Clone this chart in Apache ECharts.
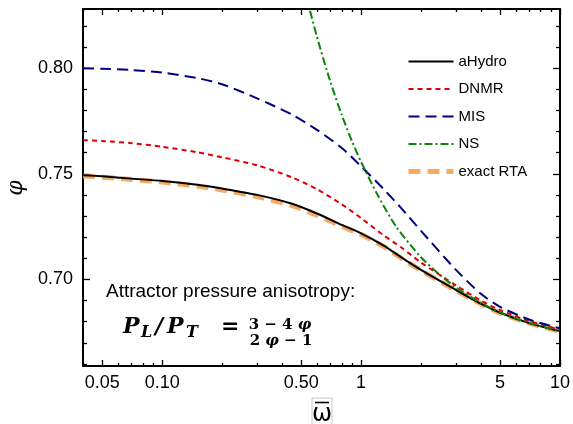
<!DOCTYPE html>
<html><head><meta charset="utf-8">
<script src="https://cdn.jsdelivr.net/npm/echarts@6/dist/echarts.min.js"></script>
<style>html,body{margin:0;padding:0;background:#fff}#c{width:573px;height:424px}</style>
</head><body><div id="c"></div>
<script>
// ---- data (omega-bar values and phi values) ----
const omega    = [0.04, 0.05, 0.07, 0.1, 0.15, 0.2, 0.3, 0.45, 0.6, 0.8, 1, 1.3, 1.6, 2, 3, 4, 5, 7, 10];
const aHydro   = [0.7493, 0.7488, 0.7477, 0.7466, 0.7448, 0.7430, 0.7400, 0.7358, 0.7312, 0.7258, 0.7218, 0.7160, 0.7103, 0.7045, 0.6950, 0.6885, 0.6842, 0.6793, 0.6755];
const exactRTA = [0.7490, 0.7484, 0.7473, 0.7461, 0.7442, 0.7423, 0.7392, 0.7349, 0.7304, 0.7251, 0.7212, 0.7155, 0.7099, 0.7042, 0.6948, 0.6884, 0.6841, 0.6793, 0.6755];
const dnmr     = [0.7659, 0.7655, 0.7645, 0.7628, 0.7602, 0.7578, 0.7540, 0.7483, 0.7427, 0.7355, 0.7290, 0.7208, 0.7150, 0.7080, 0.6972, 0.6900, 0.6855, 0.6803, 0.6762];
const mis      = [0.8000, 0.7997, 0.7991, 0.7979, 0.7953, 0.7924, 0.7857, 0.7780, 0.7708, 0.7622, 0.7535, 0.7427, 0.7335, 0.7230, 0.7045, 0.6932, 0.6870, 0.6810, 0.6768];
const omegaNS  = [0.53, 0.55, 0.6, 0.7, 0.8, 0.9, 1, 1.2, 1.5, 2, 2.5, 3, 4, 5, 7, 10];
const ns       = [0.8344, 0.8283, 0.8148, 0.7937, 0.7778, 0.7654, 0.7556, 0.7407, 0.7250, 0.7105, 0.7020, 0.6962, 0.6889, 0.6844, 0.6794, 0.6756];

const xTickValues = [0.05, 0.1, 0.5, 1, 5, 10];
const xTickLabels = ['0.05', '0.10', '0.50', '1', '5', '10'];
const xMinorTicks = [0.04, 0.06, 0.07, 0.08, 0.09, 0.2, 0.3, 0.4, 0.6, 0.7, 0.8, 0.9, 2, 3, 4, 6, 7, 8, 9];
const yTickValues = [0.70, 0.75, 0.80];
const yTickLabels = ['0.70', '0.75', '0.80'];
const yMinorTicks = [0.66, 0.67, 0.68, 0.69, 0.71, 0.72, 0.73, 0.74, 0.76, 0.77, 0.78, 0.79, 0.81, 0.82];
const xRange = [0.04, 10];
const yRange = [0.659, 0.828];

// ---- chart ----
const L = v => Math.log10(v);
const xmin = L(xRange[0]), xmax = L(xRange[1]);
const pairs = (xs, ys) => xs.map((w, i) => [L(w), ys[i]]);
const xFmt = v => { const i = xTickValues.findIndex(t => Math.abs(L(t) - v) < 1e-7); return i >= 0 ? xTickLabels[i] : ''; };
const yFmt = v => { const i = yTickValues.findIndex(t => Math.abs(t - v) < 1e-7); return i >= 0 ? yTickLabels[i] : ''; };

const axLine = {show: true, onZero: false, lineStyle: {color: '#000', width: 2}};
const noLine = {show: false, onZero: false};
const tickStyle = {color: '#000', width: 1.3};
const lblFont = {color: '#000', fontSize: 18, fontFamily: '"Liberation Sans", Arial, sans-serif'};

function xAx(pos, vals, len, label, line) {
  return {type: 'value', position: pos, min: xmin, max: xmax,
    axisLine: line ? axLine : noLine,
    axisTick: {show: true, inside: true, length: len, customValues: vals.map(L), lineStyle: tickStyle},
    axisLabel: label ? Object.assign({show: true, customValues: vals.map(L), formatter: xFmt, margin: 8}, lblFont) : {show: false},
    splitLine: {show: false}};
}
function yAx(pos, vals, len, label, line) {
  return {type: 'value', position: pos, min: yRange[0], max: yRange[1],
    axisLine: line ? axLine : noLine,
    axisTick: {show: true, inside: true, length: len, customValues: vals, lineStyle: tickStyle},
    axisLabel: label ? Object.assign({show: true, customValues: vals, formatter: yFmt, margin: 10}, lblFont) : {show: false},
    splitLine: {show: false}};
}

function line(name, xs, ys, color, width, type, z) {
  return {name, type: 'line', data: pairs(xs, ys), xAxisIndex: 0, yAxisIndex: 0, symbol: 'none',
    smooth: 0.25,
    z, lineStyle: {color, width, type}, itemStyle: {color}, emphasis: {disabled: true}};
}

const serif = '"DejaVu Serif", "Liberation Serif", serif';
const txt = (x, y, text, font) => ({type: 'text', x, y, style: {text, font, fill: '#000', verticalAlign: 'middle'}});
const option = {
  animation: false,
  backgroundColor: '#fff',
  grid: {left: 83, right: 11, top: 9, bottom: 58, containLabel: false},
  xAxis: [
    xAx('bottom', xTickValues, 6, true, true),
    xAx('bottom', xMinorTicks, 3, false, false),
    xAx('top', xTickValues, 6, false, true),
    xAx('top', xMinorTicks, 3, false, false)
  ],
  yAxis: [
    yAx('left', yTickValues, 7, true, true),
    yAx('left', yMinorTicks, 4, false, false),
    yAx('right', yTickValues, 7, false, true),
    yAx('right', yMinorTicks, 4, false, false)
  ],
  legend: {
    data: ['aHydro', 'DNMR', 'MIS', 'NS', {name: 'exact RTA', lineStyle: {width: 5}}],
    orient: 'vertical', left: 401, top: 49, itemWidth: 45, itemHeight: 14, itemGap: 12.5,
    itemStyle: {opacity: 0},
    textStyle: {color: '#000', fontSize: 15, fontFamily: '"Liberation Sans", Arial, sans-serif'},
    selectedMode: false
  },
  series: [
    line('exact RTA', omega, exactRTA, 'rgba(245,164,88,0.92)', 5, [12, 7], 1),
    line('aHydro', omega, aHydro, '#000000', 2, 'solid', 2),
    line('DNMR', omega, dnmr, '#e00000', 2, [5, 4], 3),
    line('MIS', omega, mis, '#000080', 2, [11, 6], 4),
    line('NS', omegaNS, ns, '#0a840a', 2, [8, 3, 2, 3], 5)
  ],
  graphic: [
    {type: 'text', left: 106, top: 282, style: {text: 'Attractor pressure anisotropy:', font: '19px "Liberation Sans", Arial, sans-serif', fill: '#000'}},
    txt(123, 327, 'P', 'bold italic 22px ' + serif),
    txt(141, 333, 'L', 'bold italic 16px ' + serif),
    txt(155, 327, '/', 'bold italic 22px ' + serif),
    txt(167, 327, 'P', 'bold italic 22px ' + serif),
    txt(186, 333, 'T', 'bold italic 16px ' + serif),
    txt(221, 327, '=', 'bold 22px ' + serif),
    {type: 'text', x: 280, y: 325, style: {text: '{n|3 − 4 }{v|φ}', align: 'center', verticalAlign: 'middle',
      rich: {n: {font: 'bold 15px ' + serif, fill: '#000'}, v: {font: 'bold italic 15px ' + serif, fill: '#000'}}}},
    {type: 'text', x: 281, y: 341, style: {text: '{n|2 }{v|φ}{n| − 1}', align: 'center', verticalAlign: 'middle',
      rich: {n: {font: 'bold 15px ' + serif, fill: '#000'}, v: {font: 'bold italic 15px ' + serif, fill: '#000'}}}},
    {type: 'text', x: 16, y: 188, rotation: Math.PI / 2, style: {text: 'φ', font: 'italic 22px ' + serif, fill: '#000', align: 'center', verticalAlign: 'middle'}},
    {type: 'rect', shape: {x: 312, y: 398, width: 20, height: 30}, style: {fill: 'none', stroke: '#c8c8c8', lineWidth: 1}},
    {type: 'line', shape: {x1: 315, y1: 402.5, x2: 329, y2: 402.5}, style: {stroke: '#000', lineWidth: 1.6}},
    {type: 'text', x: 322, y: 415, style: {text: 'ω', font: '24px "DejaVu Sans", sans-serif', fill: '#000', align: 'center', verticalAlign: 'middle'}}
  ]
};
const chart = echarts.init(document.getElementById('c'), null, {renderer: 'canvas'});
chart.setOption(option);
</script>
</body></html>
